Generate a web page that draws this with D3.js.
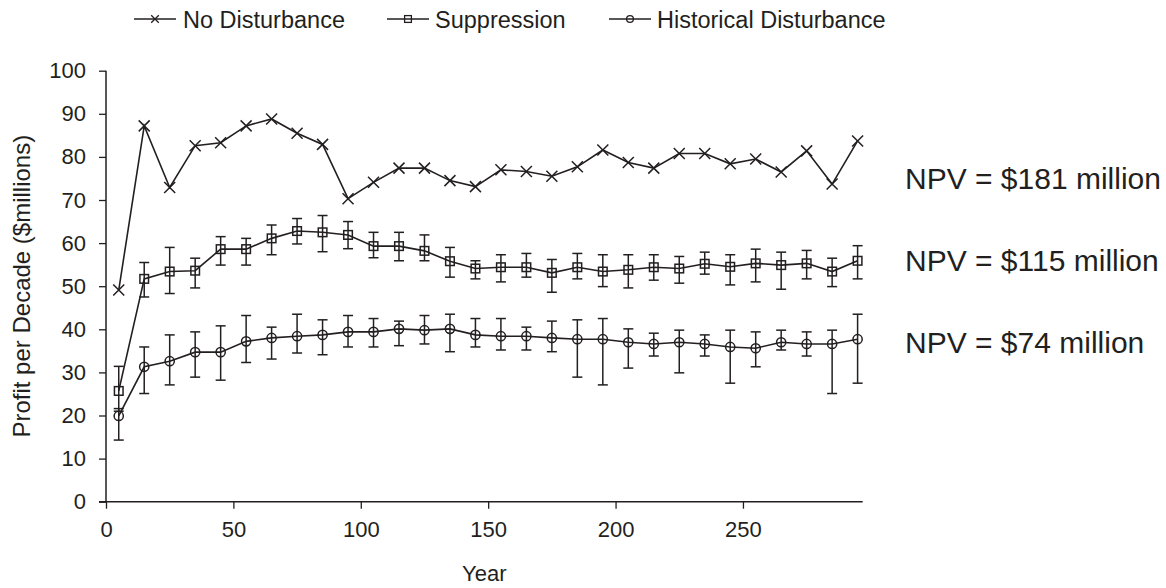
<!DOCTYPE html>
<html>
<head>
<meta charset="utf-8">
<script src="https://cdn.jsdelivr.net/npm/d3@7"></script>
<style>
  html, body { margin: 0; padding: 0; background: #fff; }
  svg { display: block; font-family: "Liberation Sans", Arial, Helvetica, sans-serif; }
</style>
</head>
<body>
<svg id="chart" width="1166" height="588"></svg>
<script>
// ---- data ----
const years = [5,15,25,35,45,55,65,75,85,95,105,115,125,135,145,155,165,175,185,195,205,215,225,235,245,255,265,275,285,295];

const noDisturbance = [49.1,87.2,72.9,82.6,83.3,87.2,88.8,85.5,82.9,70.3,74.1,77.4,77.4,74.5,73.1,77.0,76.6,75.5,77.7,81.6,78.7,77.4,80.8,80.8,78.4,79.5,76.5,81.4,73.7,83.7];

const suppression = [25.7,51.7,53.4,53.6,58.6,58.6,61.1,62.8,62.5,61.9,59.3,59.3,58.2,55.8,54.1,54.4,54.4,53.1,54.4,53.4,53.8,54.4,54.1,55.2,54.5,55.3,54.9,55.3,53.4,55.9];
const suppressionUpper = [31.4,55.5,59.0,56.5,61.5,61.1,64.2,65.7,66.4,65.0,62.5,62.5,61.9,59.0,55.9,57.3,57.6,56.2,57.6,57.3,57.3,57.3,56.9,57.9,57.3,58.6,57.9,58.3,56.5,59.4];
const suppressionLower = [21.0,47.5,48.3,49.6,54.9,54.9,57.3,59.8,58.0,58.7,56.6,55.9,55.9,52.1,51.7,51.0,52.1,48.6,51.7,49.9,49.6,51.4,50.7,52.8,50.3,51.0,49.3,51.7,49.9,51.7];

const historical = [19.9,31.3,32.6,34.7,34.7,37.2,38.0,38.4,38.7,39.4,39.4,40.1,39.8,40.1,38.7,38.4,38.4,38.0,37.7,37.7,37.0,36.6,37.0,36.6,35.9,35.6,37.0,36.6,36.6,37.7];
const historicalUpper = [21.6,35.9,38.7,39.4,40.8,43.2,40.5,43.5,42.2,43.2,42.5,41.9,43.2,43.5,42.5,42.5,40.5,41.9,42.2,42.5,40.1,39.1,39.8,38.7,39.8,39.4,39.8,39.4,39.8,43.5];
const historicalLower = [14.3,25.1,27.1,28.9,28.2,32.3,33.1,34.5,34.1,35.9,35.9,36.2,36.6,34.8,35.9,35.2,35.2,34.8,28.9,27.1,31.0,33.8,29.9,33.8,27.5,31.3,35.2,33.8,25.1,27.5];

const seriesNames = ["No Disturbance", "Suppression", "Historical Disturbance"];
const npvLabels = ["NPV = $181 million", "NPV = $115 million", "NPV = $74 million"];
const xTicks = [0,50,100,150,200,250];
const yTicks = [0,10,20,30,40,50,60,70,80,90,100];

// ---- layout ----
const ink = "#231f20";
const svg = d3.select("#chart");
const x = d3.scaleLinear().domain([0, 297]).range([106, 862.7]);
const y = d3.scaleLinear().domain([0, 100]).range([501.7, 70.7]);

// axes
const yAxis = d3.axisLeft(y).tickValues(yTicks).tickSize(7).tickPadding(13);
const gy = svg.append("g").attr("transform", `translate(${x(0)},0)`).call(yAxis);
gy.select(".domain").remove();
gy.selectAll(".tick line").attr("stroke", ink).attr("stroke-width", 1.3);
gy.selectAll(".tick text").attr("font-size", 22).attr("fill", ink).attr("font-family", "Liberation Sans, Arial, sans-serif");

const xAxis = d3.axisBottom(x).tickValues(xTicks).tickSize(7).tickPadding(13);
const gx = svg.append("g").attr("transform", `translate(0,${y(0)})`).call(xAxis);
gx.select(".domain").remove();
gx.selectAll(".tick line").attr("stroke", ink).attr("stroke-width", 1.3);
gx.selectAll(".tick text").attr("font-size", 22).attr("fill", ink).attr("font-family", "Liberation Sans, Arial, sans-serif");

// axis lines
svg.append("line").attr("x1", x(0)).attr("x2", x(0)).attr("y1", y(100)).attr("y2", y(0))
  .attr("stroke", ink).attr("stroke-width", 1.5);
svg.append("line").attr("x1", x(0) - 7).attr("x2", x(297)).attr("y1", y(0)).attr("y2", y(0))
  .attr("stroke", ink).attr("stroke-width", 1.5);

// axis titles
svg.append("text").attr("x", (x(0) + x(297)) / 2).attr("y", 581).attr("text-anchor", "middle")
  .attr("font-size", 22).attr("fill", ink).text("Year");
svg.append("text").attr("transform", `translate(30,${(y(0) + y(100)) / 2}) rotate(-90)`)
  .attr("text-anchor", "middle").attr("font-size", 24).attr("fill", ink)
  .text("Profit per Decade ($millions)");

// marker drawers
function drawMarker(g, type, cx, cy, s, sw) {
  sw = sw || 1.5;
  if (type === "x") {
    g.append("path").attr("d", `M${cx - s},${cy - s}L${cx + s},${cy + s}M${cx - s},${cy + s}L${cx + s},${cy - s}`)
      .attr("stroke", ink).attr("stroke-width", sw).attr("fill", "none");
  } else if (type === "square") {
    g.append("rect").attr("x", cx - s).attr("y", cy - s).attr("width", 2 * s).attr("height", 2 * s)
      .attr("stroke", ink).attr("stroke-width", sw).attr("fill", "none");
  } else {
    g.append("circle").attr("cx", cx).attr("cy", cy).attr("r", s)
      .attr("stroke", ink).attr("stroke-width", sw).attr("fill", "none");
  }
}

const line = d3.line().x(d => x(d[0])).y(d => y(d[1]));

const series = [
  { name: seriesNames[0], vals: noDisturbance, type: "x", size: 5.5 },
  { name: seriesNames[1], vals: suppression, up: suppressionUpper, lo: suppressionLower, type: "square", size: 4.3 },
  { name: seriesNames[2], vals: historical, up: historicalUpper, lo: historicalLower, type: "circle", size: 4.6 }
];

series.forEach(s => {
  const g = svg.append("g");
  // error bars
  if (s.up) {
    years.forEach((yr, i) => {
      const cx = x(yr);
      g.append("line").attr("x1", cx).attr("x2", cx).attr("y1", y(s.lo[i])).attr("y2", y(s.up[i]))
        .attr("stroke", ink).attr("stroke-width", 1.5);
      [s.lo[i], s.up[i]].forEach(v => {
        g.append("line").attr("x1", cx - 5).attr("x2", cx + 5).attr("y1", y(v)).attr("y2", y(v))
          .attr("stroke", ink).attr("stroke-width", 1.5);
      });
    });
  }
  g.append("path").datum(years.map((yr, i) => [yr, s.vals[i]])).attr("d", line)
    .attr("fill", "none").attr("stroke", ink).attr("stroke-width", 1.6);
  years.forEach((yr, i) => drawMarker(g, s.type, x(yr), y(s.vals[i]), s.size));
});

// legend
const legendPos = [[134, 183], [387, 435], [609, 657]];
series.forEach((s, i) => {
  const g = svg.append("g");
  const [lx, tx] = legendPos[i];
  g.append("line").attr("x1", lx).attr("x2", lx + 42).attr("y1", 19).attr("y2", 19)
    .attr("stroke", ink).attr("stroke-width", 1.3);
  drawMarker(g, s.type, lx + 21, 19, s.type === "x" ? 3.8 : 3.4, 1.3);
  g.append("text").attr("x", tx).attr("y", 27.5).attr("font-size", 23.5).attr("fill", ink).text(s.name);
});

// NPV annotations
const npvBaselines = [189, 271, 353];
npvLabels.forEach((t, i) => {
  svg.append("text").attr("x", 905).attr("y", npvBaselines[i]).attr("font-size", 30)
    .attr("fill", ink).text(t);
});
</script>
</body>
</html>
